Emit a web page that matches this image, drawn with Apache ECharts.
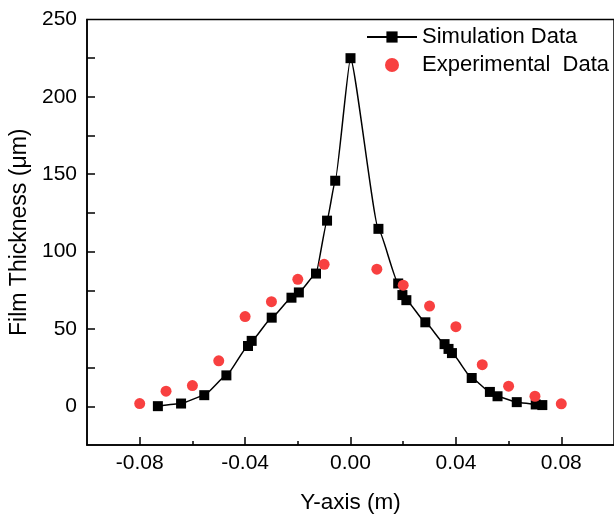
<!DOCTYPE html>
<html>
<head>
<meta charset="utf-8">
<script src="https://cdn.jsdelivr.net/npm/echarts@6/dist/echarts.min.js"></script>
<style>
html,body{margin:0;padding:0;background:#fff;}
#c{width:614px;height:519px;}
</style>
</head>
<body>
<div id="c"></div>
<script>
const simX = [-0.0731,-0.0643,-0.0555,-0.0471,-0.0389,-0.0375,-0.0299,-0.0224,-0.0196,-0.0131,-0.0089,-0.0058,0,0.0106,0.0181,0.0197,0.0212,0.0284,0.0357,0.0372,0.0385,0.046,0.0529,0.0558,0.0631,0.0703,0.0728];
const simY = [0.1,1.8,7.2,20,39,42.3,57.3,70.2,73.6,85.8,120,145.8,225,114.7,79.4,71.9,68.6,54.3,40.2,37.1,34.4,18.3,9.3,6.5,2.7,1.2,0.8];
const expX = [-0.08,-0.07,-0.06,-0.05,-0.04,-0.03,-0.02,-0.01,0.01,0.02,0.03,0.04,0.05,0.06,0.07,0.08];
const expY = [1.8,9.8,13.4,29.4,58,67.6,82.1,91.8,88.6,78.3,64.8,51.5,26.9,13,6.5,1.6];
const xMajorTicks = [-0.08,-0.04,0,0.04,0.08];
const xMinorTicks = [-0.06,-0.02,0.02,0.06];
const yLabels = [0,50,100,150,200,250];
const yTicks = [0,25,50,75,100,125,150,175,200,225];

const FONT = 'Liberation Sans, Arial, sans-serif';
const chart = echarts.init(document.getElementById('c'), null, {renderer:'canvas'});
const simData = simX.map((x,i)=>[x, simY[i]]);
const expData = expX.map((x,i)=>[x, expY[i]]);

chart.setOption({
  animation:false,
  backgroundColor:'#fff',
  grid:{left:87, right:-3, top:19.5, bottom:72.5, show:true, borderColor:'#000', borderWidth:1.5, containLabel:false},
  legend:{
    orient:'vertical', left:361, top:21, padding:5,
    itemWidth:50, itemHeight:14, itemGap:6,
    textStyle:{fontFamily:FONT, fontSize:22, color:'#000', lineHeight:22},
    data:['Simulation Data','Experimental  Data']
  },
  xAxis:[{
    type:'value', min:-0.1, max:0.1, position:'bottom',
    name:'Y-axis (m)', nameLocation:'middle', nameGap:46,
    nameTextStyle:{fontFamily:FONT, fontSize:22.5, color:'#000'},
    axisLine:{show:true, onZero:false, lineStyle:{color:'#000', width:1.5}},
    axisTick:{show:true, inside:true, length:8, customValues:xMajorTicks, lineStyle:{color:'#000', width:1.5}},
    axisLabel:{customValues:xMajorTicks, fontFamily:FONT, fontSize:21, color:'#000', margin:8,
      formatter:v=>v.toFixed(2)},
    splitLine:{show:false}
  },{
    type:'value', min:-0.1, max:0.1, position:'bottom', offset:0,
    axisLine:{show:false, onZero:false},
    axisTick:{show:true, inside:true, length:4, customValues:xMinorTicks, lineStyle:{color:'#000', width:1.5}},
    axisLabel:{show:false},
    splitLine:{show:false}
  }],
  yAxis:{
    type:'value', min:-25, max:250,
    name:'Film Thickness (μm)', nameLocation:'middle', nameGap:55,
    nameTextStyle:{fontFamily:FONT, fontSize:23, color:'#000'},
    axisLine:{show:true, onZero:false, lineStyle:{color:'#000', width:1.5}},
    axisTick:{show:true, inside:true, length:8, customValues:yTicks, lineStyle:{color:'#000', width:1.5}},
    axisLabel:{customValues:yLabels, fontFamily:FONT, fontSize:21, color:'#000', margin:10},
    splitLine:{show:false}
  },
  series:[{
    name:'Simulation Data', type:'line', data:simData,
    smooth:0.15, smoothMonotone:'x',
    symbol:'rect', symbolSize:10,
    lineStyle:{color:'#000', width:1.5},
    itemStyle:{color:'#000'}, z:2
  },{
    name:'Experimental  Data', type:'scatter', data:expData,
    symbol:'circle', symbolSize:11,
    itemStyle:{color:'#F84040', opacity:1}, z:3
  }]
});
</script>
</body>
</html>
